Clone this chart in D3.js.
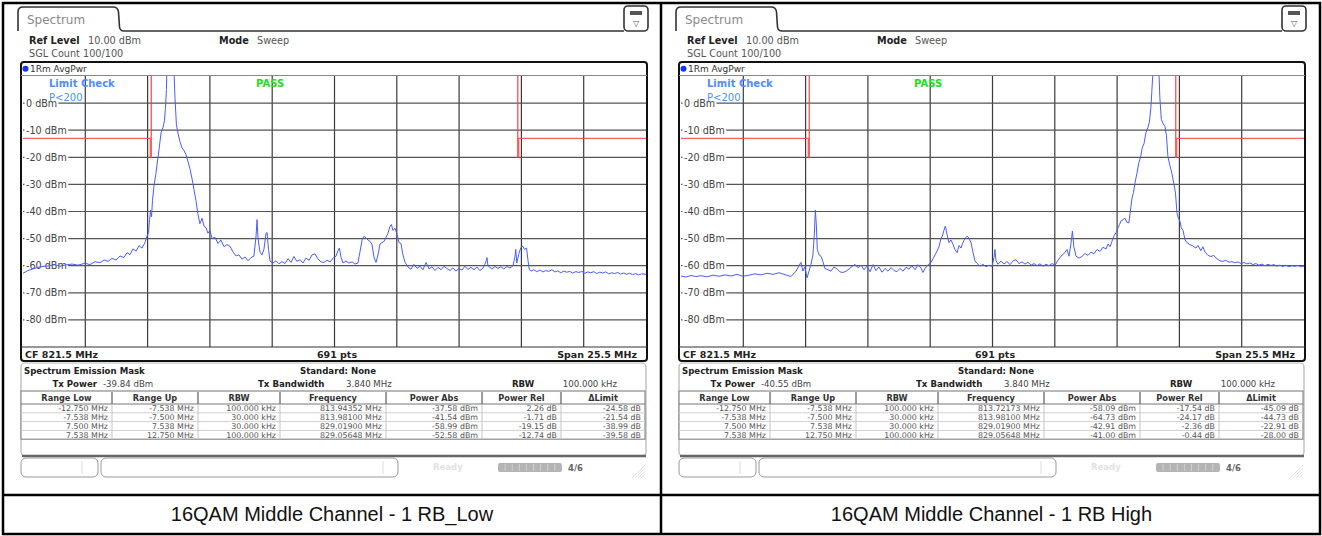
<!DOCTYPE html>
<html>
<head>
<meta charset="utf-8">
<script src="https://cdn.jsdelivr.net/npm/d3@7"></script>
<style>
  body { margin: 0; background: #fff; }
  svg { display: block; font-family: "DejaVu Sans", Verdana, sans-serif; }
</style>
</head>
<body>
<svg id="chart" width="1322" height="536"></svg>
<script>
"use strict";

// y axis (dBm) ticks shown on the analyzer screen
const yTickValues = [0, -10, -20, -30, -40, -50, -60, -70, -80];
const yTickLabels = ["0 dBm", "-10 dBm", "-20 dBm", "-30 dBm", "-40 dBm", "-50 dBm", "-60 dBm", "-70 dBm", "-80 dBm"];

// trace: [offset from CF in MHz, level in dBm]
const traceLow = [
  [-12.75, -62.8], [-12.55, -61.8], [-12.34, -61.2], [-12.14, -60.6], [-11.93, -60.3], [-11.65, -60.0],
  [-11.44, -59.6], [-11.24, -60.2], [-10.99, -59.7], [-10.74, -59.4], [-10.50, -59.8], [-10.21, -59.1],
  [-10.01, -59.6], [-9.80, -58.5], [-9.60, -58.9], [-9.43, -57.9], [-9.27, -58.4], [-9.11, -57.3],
  [-8.94, -57.9], [-8.78, -56.4], [-8.62, -57.0], [-8.49, -55.2], [-8.37, -55.9], [-8.25, -53.8],
  [-8.12, -54.6], [-8.00, -52.6], [-7.88, -53.5], [-7.76, -51.5], [-7.67, -49.0], [-7.61, -47.8],
  [-7.57, -43.0], [-7.53, -39.5], [-7.49, -42.0], [-7.45, -36.0], [-7.39, -30.7], [-7.31, -26.0],
  [-7.24, -21.0], [-7.18, -17.0], [-7.10, -11.0], [-7.02, -9.0], [-6.96, -6.5], [-6.92, -2.0],
  [-6.88, 5.0], [-6.86, 12.0], [-6.57, 12.0], [-6.53, 2.0], [-6.47, -8.0], [-6.41, -11.0],
  [-6.32, -14.5], [-6.24, -16.5], [-6.16, -17.5], [-6.08, -19.0], [-6.00, -21.5], [-5.91, -24.5],
  [-5.83, -28.0], [-5.75, -32.0], [-5.67, -36.0], [-5.59, -41.0], [-5.51, -44.5], [-5.42, -42.5],
  [-5.34, -45.5], [-5.26, -46.0], [-5.18, -48.0], [-5.10, -47.0], [-5.01, -50.0], [-4.89, -49.5],
  [-4.77, -51.8], [-4.65, -50.5], [-4.52, -53.0], [-4.40, -52.2], [-4.28, -52.8], [-4.15, -55.0],
  [-4.03, -56.4], [-3.91, -56.0], [-3.79, -57.6], [-3.66, -56.8], [-3.54, -58.2], [-3.42, -57.0],
  [-3.30, -56.5], [-3.21, -49.0], [-3.17, -43.0], [-3.13, -50.0], [-3.05, -55.0], [-2.97, -56.0],
  [-2.89, -54.0], [-2.80, -48.0], [-2.76, -47.8], [-2.70, -54.0], [-2.64, -58.3], [-2.52, -59.0],
  [-2.39, -58.2], [-2.27, -59.3], [-2.15, -58.5], [-2.03, -59.2], [-1.90, -57.4], [-1.78, -58.8],
  [-1.66, -56.6], [-1.54, -58.4], [-1.41, -57.8], [-1.29, -59.0], [-1.17, -57.2], [-1.04, -58.0],
  [-0.92, -56.0], [-0.80, -55.6], [-0.68, -57.5], [-0.55, -58.6], [-0.43, -58.8], [-0.31, -58.0],
  [-0.18, -58.6], [-0.06, -57.2], [0.06, -56.5], [0.14, -54.5], [0.20, -53.5], [0.27, -57.0],
  [0.35, -59.0], [0.47, -58.3], [0.59, -59.0], [0.72, -58.6], [0.84, -59.4], [0.96, -59.0],
  [1.04, -55.0], [1.13, -50.5], [1.21, -49.1], [1.29, -49.8], [1.37, -50.5], [1.45, -51.0],
  [1.53, -52.0], [1.62, -57.0], [1.70, -58.8], [1.78, -56.0], [1.86, -52.0], [1.94, -51.5],
  [2.03, -51.0], [2.11, -49.5], [2.19, -48.0], [2.27, -45.5], [2.33, -44.8], [2.39, -47.0],
  [2.48, -46.2], [2.56, -48.5], [2.64, -51.5], [2.72, -51.8], [2.80, -56.0], [2.89, -58.8],
  [3.01, -60.5], [3.13, -61.3], [3.25, -59.5], [3.38, -61.0], [3.50, -60.2], [3.62, -61.5],
  [3.75, -58.8], [3.87, -61.2], [3.99, -60.4], [4.11, -61.8], [4.24, -60.6], [4.36, -61.5],
  [4.48, -60.2], [4.60, -61.0], [4.73, -61.8], [4.85, -60.8], [4.97, -62.0], [5.09, -61.0],
  [5.22, -61.6], [5.34, -60.2], [5.46, -61.4], [5.58, -60.6], [5.71, -61.5], [5.83, -60.5],
  [5.95, -61.8], [6.08, -60.9], [6.20, -58.5], [6.24, -57.0], [6.28, -60.0], [6.44, -61.2],
  [6.57, -60.3], [6.69, -61.0], [6.81, -60.4], [6.93, -61.2], [7.06, -60.3], [7.18, -60.8],
  [7.30, -60.1], [7.38, -57.0], [7.42, -54.0], [7.46, -59.0], [7.55, -55.5], [7.62, -53.5],
  [7.70, -52.7], [7.78, -54.0], [7.86, -53.5], [7.92, -58.0], [7.97, -61.3], [8.04, -62.0],
  [8.16, -61.5], [8.28, -62.2], [8.41, -61.6], [8.53, -62.3], [8.65, -61.8], [8.77, -62.1],
  [8.90, -61.5], [9.02, -62.3], [9.14, -61.9], [9.26, -62.6], [9.39, -62.0], [9.51, -62.4],
  [9.63, -62.1], [9.75, -62.7], [9.88, -62.2], [10.00, -62.5], [10.12, -62.1], [10.24, -62.8],
  [10.37, -62.3], [10.49, -62.6], [10.61, -62.2], [10.73, -62.9], [10.86, -62.4], [10.98, -62.7],
  [11.10, -62.3], [11.22, -63.0], [11.35, -62.6], [11.47, -62.9], [11.59, -62.5], [11.71, -63.1],
  [11.84, -62.7], [11.96, -63.2], [12.08, -62.8], [12.20, -63.3], [12.33, -62.9], [12.45, -63.4],
  [12.57, -63.0], [12.75, -63.2]
];

const traceHigh = [
  [-12.75, -63.8], [-12.55, -64.2], [-12.34, -63.6], [-12.14, -64.0], [-11.93, -63.7], [-11.69, -64.1],
  [-11.44, -63.5], [-11.19, -63.9], [-10.95, -63.4], [-10.70, -63.8], [-10.46, -63.2], [-10.21, -63.9],
  [-9.97, -63.5], [-9.72, -63.0], [-9.48, -63.4], [-9.23, -62.8], [-8.98, -63.2], [-8.74, -62.6],
  [-8.49, -63.3], [-8.25, -64.0], [-8.04, -62.0], [-7.92, -60.0], [-7.84, -58.8], [-7.76, -62.0],
  [-7.68, -60.5], [-7.59, -64.5], [-7.51, -62.0], [-7.43, -59.5], [-7.35, -56.0], [-7.29, -48.0],
  [-7.25, -39.5], [-7.21, -45.0], [-7.17, -54.0], [-7.10, -56.0], [-7.02, -56.5], [-6.94, -58.5],
  [-6.86, -61.0], [-6.73, -61.5], [-6.61, -62.0], [-6.49, -60.5], [-6.36, -61.2], [-6.24, -62.3],
  [-6.12, -62.5], [-5.99, -62.0], [-5.87, -61.2], [-5.75, -60.3], [-5.63, -59.5], [-5.50, -60.8],
  [-5.38, -59.8], [-5.26, -61.5], [-5.14, -60.2], [-5.01, -62.2], [-4.89, -59.6], [-4.77, -61.8],
  [-4.65, -60.5], [-4.52, -62.4], [-4.40, -61.0], [-4.28, -62.0], [-4.15, -60.7], [-4.03, -61.8],
  [-3.91, -62.2], [-3.79, -61.0], [-3.66, -62.0], [-3.54, -60.6], [-3.42, -61.3], [-3.30, -60.0],
  [-3.17, -61.5], [-3.05, -59.6], [-2.93, -60.8], [-2.85, -62.5], [-2.76, -61.0], [-2.68, -60.0],
  [-2.60, -59.5], [-2.52, -58.8], [-2.44, -57.5], [-2.35, -56.0], [-2.27, -54.6], [-2.19, -53.0],
  [-2.11, -50.0], [-2.05, -49.0], [-1.99, -47.0], [-1.93, -45.4], [-1.86, -48.5], [-1.78, -51.5],
  [-1.70, -50.5], [-1.62, -52.0], [-1.54, -54.0], [-1.45, -55.2], [-1.37, -52.5], [-1.29, -53.5],
  [-1.21, -51.5], [-1.13, -50.0], [-1.04, -49.1], [-0.96, -49.8], [-0.88, -51.5], [-0.80, -55.0],
  [-0.72, -58.2], [-0.63, -59.2], [-0.51, -60.2], [-0.39, -59.5], [-0.27, -60.4], [-0.14, -59.8],
  [-0.02, -60.3], [0.06, -57.0], [0.10, -54.0], [0.14, -58.0], [0.22, -59.5], [0.35, -58.3],
  [0.47, -59.4], [0.59, -58.5], [0.72, -59.6], [0.84, -58.2], [0.96, -57.8], [1.08, -59.2],
  [1.21, -58.6], [1.33, -59.4], [1.45, -58.7], [1.58, -59.8], [1.70, -59.2], [1.82, -60.0],
  [1.94, -59.3], [2.07, -60.2], [2.19, -59.5], [2.31, -60.0], [2.44, -59.2], [2.56, -59.8],
  [2.68, -58.0], [2.80, -56.5], [2.93, -55.5], [3.05, -54.0], [3.13, -56.5], [3.21, -52.0],
  [3.27, -47.2], [3.33, -53.0], [3.42, -56.5], [3.54, -57.2], [3.66, -56.6], [3.79, -55.5],
  [3.91, -56.2], [4.03, -55.0], [4.15, -55.6], [4.28, -54.0], [4.40, -54.8], [4.52, -53.2],
  [4.65, -53.8], [4.73, -52.0], [4.81, -53.0], [4.89, -51.0], [4.97, -49.0], [5.06, -47.8],
  [5.14, -46.0], [5.20, -44.8], [5.26, -43.5], [5.34, -43.0], [5.42, -42.5], [5.50, -44.0],
  [5.58, -44.2], [5.67, -38.0], [5.71, -35.0], [5.77, -33.0], [5.83, -29.5], [5.91, -26.0],
  [5.99, -22.0], [6.07, -19.5], [6.13, -16.5], [6.20, -15.0], [6.28, -11.0], [6.36, -9.0],
  [6.42, -7.0], [6.48, -2.0], [6.52, 4.0], [6.57, 12.0], [6.81, 12.0], [6.85, 2.0],
  [6.91, -6.0], [6.98, -7.5], [7.06, -8.7], [7.12, -12.0], [7.18, -19.7], [7.26, -23.0],
  [7.34, -25.8], [7.43, -30.0], [7.49, -33.2], [7.55, -40.5], [7.61, -42.5], [7.67, -43.5],
  [7.73, -46.0], [7.80, -47.0], [7.88, -50.5], [7.96, -51.5], [8.08, -52.2], [8.20, -52.7],
  [8.33, -53.5], [8.41, -52.5], [8.53, -54.5], [8.61, -53.0], [8.70, -55.0], [8.82, -56.2],
  [8.94, -56.6], [9.06, -56.2], [9.19, -57.5], [9.31, -58.2], [9.43, -58.4], [9.55, -58.0],
  [9.68, -58.7], [9.80, -58.5], [9.92, -58.9], [10.05, -58.6], [10.17, -59.2], [10.29, -58.8],
  [10.41, -59.3], [10.54, -59.0], [10.66, -59.6], [10.78, -59.2], [10.90, -59.8], [11.03, -59.4],
  [11.15, -60.0], [11.27, -59.5], [11.40, -59.9], [11.52, -59.6], [11.64, -60.2], [11.76, -59.8],
  [11.89, -60.3], [12.01, -59.8], [12.13, -60.4], [12.25, -60.0], [12.38, -60.2], [12.50, -59.9],
  [12.62, -60.4], [12.75, -60.1]
];

// spectrum emission mask limit lines [MHz offset, dBm]
const limitLower = [[-12.75, -13], [-7.538, -13], [-7.538, -20], [-7.5, -20], [-7.5, 10]];
const limitUpper = [[7.5, 10], [7.5, -20], [7.538, -20], [7.538, -13], [12.75, -13]];

// result table
const tableColumns = ["Range Low", "Range Up", "RBW", "Frequency", "Power Abs", "Power Rel", "\u0394Limit"];
const rowsLow = [
  ["-12.750 MHz", "-7.538 MHz", "100.000 kHz", "813.94352 MHz", "-37.58 dBm", "2.26 dB", "-24.58 dB"],
  ["-7.538 MHz", "-7.500 MHz", "30.000 kHz", "813.98100 MHz", "-41.54 dBm", "-1.71 dB", "-21.54 dB"],
  ["7.500 MHz", "7.538 MHz", "30.000 kHz", "829.01900 MHz", "-58.99 dBm", "-19.15 dB", "-38.99 dB"],
  ["7.538 MHz", "12.750 MHz", "100.000 kHz", "829.05648 MHz", "-52.58 dBm", "-12.74 dB", "-39.58 dB"]
];
const rowsHigh = [
  ["-12.750 MHz", "-7.538 MHz", "100.000 kHz", "813.72173 MHz", "-58.09 dBm", "-17.54 dB", "-45.09 dB"],
  ["-7.538 MHz", "-7.500 MHz", "30.000 kHz", "813.98100 MHz", "-64.73 dBm", "-24.17 dB", "-44.73 dB"],
  ["7.500 MHz", "7.538 MHz", "30.000 kHz", "829.01900 MHz", "-42.91 dBm", "-2.36 dB", "-22.91 dB"],
  ["7.538 MHz", "12.750 MHz", "100.000 kHz", "829.05648 MHz", "-41.00 dBm", "-0.44 dB", "-28.00 dB"]
];
const txPowers = ["-39.84 dBm", "-40.55 dBm"];
const captions = ["16QAM Middle Channel - 1 RB_Low", "16QAM Middle Channel - 1 RB High"];

const svg = d3.select("#chart");

const x = d3.scaleLinear().domain([-12.75, 12.75]).range([23, 646]);
const y = d3.scaleLinear().domain([-90, 10]).range([347, 76]);
const colEdges = [21, 112, 198, 280, 386, 482, 561, 645];

function drawPanel(offset, trace, rows, txPower, id) {
  const g = svg.append("g").attr("transform", `translate(${offset},0)`);

  // tab + top line
  g.append("path")
    .attr("d", "M18,31 V12 Q18,7 23,7 H113 Q118,7 118.5,12 L119.5,27 Q120,31 124,31 H624")
    .attr("fill", "none").attr("stroke", "#333").attr("stroke-width", 1.6);
  g.append("text").attr("x", 27).attr("y", 23.5)
    .attr("font-size", 12).attr("fill", "#8a8a8a").text("Spectrum");
  g.append("rect").attr("x", 624).attr("y", 6).attr("width", 24).attr("height", 25).attr("rx", 4)
    .attr("fill", "#fff").attr("stroke", "#333").attr("stroke-width", 1.6);
  g.append("rect").attr("x", 630).attr("y", 11).attr("width", 12).attr("height", 4).attr("fill", "#555");
  g.append("text").attr("x", 636).attr("y", 26).attr("text-anchor", "middle")
    .attr("font-size", 8).attr("fill", "#555").text("\u25BD");

  // settings
  const hdr = g.append("g").attr("font-size", 9.7);
  hdr.append("text").attr("x", 29).attr("y", 44).attr("font-weight", "bold").attr("fill", "#222").text("Ref Level");
  hdr.append("text").attr("x", 88).attr("y", 44).attr("fill", "#555").text("10.00 dBm");
  hdr.append("text").attr("x", 219).attr("y", 44).attr("font-weight", "bold").attr("fill", "#222").text("Mode");
  hdr.append("text").attr("x", 257).attr("y", 44).attr("fill", "#555").text("Sweep");
  hdr.append("text").attr("x", 29).attr("y", 56.5).attr("fill", "#555").text("SGL Count 100/100");

  // plot frame
  g.append("rect").attr("x", 21).attr("y", 62).attr("width", 626).attr("height", 299).attr("rx", 3)
    .attr("fill", "#fff").attr("stroke", "#111").attr("stroke-width", 2);
  g.append("line").attr("x1", 21).attr("x2", 647).attr("y1", 75.5).attr("y2", 75.5)
    .attr("stroke", "#888").attr("stroke-width", 1);
  g.append("circle").attr("cx", 25.5).attr("cy", 68.8).attr("r", 3).attr("fill", "#1533ff");
  g.append("text").attr("x", 30).attr("y", 72).attr("font-size", 9).attr("fill", "#333").text("1Rm AvgPwr");

  // grid
  const grid = g.append("g");
  grid.selectAll(".v").data(d3.range(1, 10).map(i => -12.75 + i * 2.55)).enter().append("line")
    .attr("x1", d => x(d)).attr("x2", d => x(d)).attr("y1", y(10)).attr("y2", y(-90))
    .attr("stroke", "#3a3a3a").attr("stroke-width", 1.2);
  grid.selectAll(".h").data(yTickValues).enter().append("line")
    .attr("x1", x(-12.75)).attr("x2", x(12.75)).attr("y1", d => y(d)).attr("y2", d => y(d))
    .attr("stroke", "#555").attr("stroke-width", 1.2);
  g.append("line").attr("x1", 21).attr("x2", 647).attr("y1", y(-90)).attr("y2", y(-90))
    .attr("stroke", "#333").attr("stroke-width", 1.2);

  g.selectAll(".ylab").data(yTickValues).enter().append("text")
    .attr("x", 26).attr("y", d => y(d) + 3.4)
    .attr("font-size", 9.6).attr("fill", "#444")
    .attr("stroke", "#fff").attr("stroke-width", 4).attr("paint-order", "stroke")
    .text((d, i) => yTickLabels[i]);

  // limit check text
  g.append("text").attr("x", 49).attr("y", 86.5).attr("font-size", 10).attr("font-weight", "bold")
    .attr("fill", "#4d8dff").text("Limit Check");
  g.append("text").attr("x", 49).attr("y", 100.5).attr("font-size", 10)
    .attr("fill", "#4d8dff").text("P<200");
  g.append("text").attr("x", 256).attr("y", 86.5).attr("font-size", 10).attr("font-weight", "bold")
    .attr("fill", "#22dd22").text("PASS");

  // clip for curves
  g.append("clipPath").attr("id", id).append("rect")
    .attr("x", x(-12.75)).attr("y", y(10)).attr("width", x(12.75) - x(-12.75)).attr("height", y(-90) - y(10));

  const line = d3.line().x(d => x(d[0])).y(d => y(d[1]));
  const curves = g.append("g").attr("clip-path", `url(#${id})`);
  [limitLower, limitUpper].forEach(lim => {
    curves.append("path").attr("d", line(lim)).attr("fill", "none")
      .attr("stroke", "#ff4040").attr("stroke-width", 1.4).attr("stroke-opacity", 0.85);
  });
  curves.append("path").attr("d", line(trace)).attr("fill", "none")
    .attr("stroke", "#4a5cff").attr("stroke-width", 1).attr("stroke-linejoin", "round");

  // footer
  const ft = g.append("g").attr("font-size", 9.5).attr("font-weight", "bold").attr("fill", "#222");
  ft.append("text").attr("x", 25).attr("y", 357.5).text("CF 821.5 MHz");
  ft.append("text").attr("x", 337).attr("y", 357.5).attr("text-anchor", "middle").text("691 pts");
  ft.append("text").attr("x", 637).attr("y", 357.5).attr("text-anchor", "end").text("Span 25.5 MHz");

  // result section
  g.append("rect").attr("x", 21).attr("y", 363).attr("width", 625).attr("height", 93).attr("rx", 4)
    .attr("fill", "#fff").attr("stroke", "#b5b5b5").attr("stroke-width", 1.2);
  g.append("line").attr("x1", 22).attr("x2", 646).attr("y1", 456).attr("y2", 456)
    .attr("stroke", "#666").attr("stroke-width", 2.5);
  const rs = g.append("g").attr("font-size", 8.6).attr("fill", "#222");
  rs.append("text").attr("x", 24).attr("y", 374).attr("font-weight", "bold").text("Spectrum Emission Mask");
  rs.append("text").attr("x", 300).attr("y", 374).attr("font-weight", "bold").text("Standard: None");
  rs.append("text").attr("x", 97).attr("y", 387).attr("text-anchor", "end").attr("font-weight", "bold").text("Tx Power");
  rs.append("text").attr("x", 103).attr("y", 387).attr("fill", "#444").text(txPower);
  rs.append("text").attr("x", 258).attr("y", 387).attr("font-weight", "bold").text("Tx Bandwidth");
  rs.append("text").attr("x", 346).attr("y", 387).attr("fill", "#444").text("3.840 MHz");
  rs.append("text").attr("x", 512).attr("y", 387).attr("font-weight", "bold").text("RBW");
  rs.append("text").attr("x", 617).attr("y", 387).attr("text-anchor", "end").attr("fill", "#444").text("100.000 kHz");

  // table
  const tTop = 391, hH = 13, rH = 8.8;
  const tBottom = tTop + hH + rH * rows.length;
  const tb = g.append("g");
  tb.append("rect").attr("x", colEdges[0]).attr("y", tTop).attr("width", colEdges[7] - colEdges[0])
    .attr("height", tBottom - tTop).attr("fill", "#fff").attr("stroke", "#8a8a8a").attr("stroke-width", 1.2);
  tb.append("line").attr("x1", colEdges[0]).attr("x2", colEdges[7]).attr("y1", tTop + hH).attr("y2", tTop + hH)
    .attr("stroke", "#777").attr("stroke-width", 1);
  rows.forEach((r, i) => {
    if (i > 0) {
      tb.append("line").attr("x1", colEdges[0]).attr("x2", colEdges[7])
        .attr("y1", tTop + hH + rH * i).attr("y2", tTop + hH + rH * i).attr("stroke", "#d0d0d0");
    }
  });
  colEdges.slice(1, 7).forEach(cx => {
    tb.append("line").attr("x1", cx).attr("x2", cx).attr("y1", tTop + 1).attr("y2", tTop + hH)
      .attr("stroke", "#666").attr("stroke-width", 1.3);
    tb.append("line").attr("x1", cx).attr("x2", cx).attr("y1", tTop + hH).attr("y2", tBottom)
      .attr("stroke", "#c4c4c4").attr("stroke-width", 1);
  });
  tb.selectAll(".th").data(tableColumns).enter().append("text")
    .attr("x", (d, i) => (colEdges[i] + colEdges[i + 1]) / 2).attr("y", tTop + 9.5)
    .attr("text-anchor", "middle").attr("font-size", 8.2).attr("font-weight", "bold").attr("fill", "#333")
    .text(d => d);
  rows.forEach((r, i) => {
    tb.selectAll(null).data(r).enter().append("text")
      .attr("x", (d, j) => colEdges[j + 1] - 4).attr("y", tTop + hH + rH * i + 7.2)
      .attr("text-anchor", "end").attr("font-size", 7.9).attr("fill", "#555")
      .text(d => d);
  });

  // status bar
  const sb = g.append("g");
  sb.append("rect").attr("x", 21).attr("y", 458).attr("width", 77).attr("height", 19).attr("rx", 5)
    .attr("fill", "#fff").attr("stroke", "#999");
  sb.append("line").attr("x1", 82).attr("x2", 82).attr("y1", 461).attr("y2", 474).attr("stroke", "#ddd");
  sb.append("rect").attr("x", 101).attr("y", 458).attr("width", 297).attr("height", 19).attr("rx", 5)
    .attr("fill", "#fff").attr("stroke", "#999");
  sb.append("line").attr("x1", 383).attr("x2", 383).attr("y1", 461).attr("y2", 474).attr("stroke", "#ddd");
  sb.append("text").attr("x", 433).attr("y", 470).attr("font-size", 8.5).attr("font-weight", "bold")
    .attr("fill", "#e2e2e2").text("Ready");
  sb.append("rect").attr("x", 498).attr("y", 463).attr("width", 64).attr("height", 9).attr("rx", 2)
    .attr("fill", "#b4b4b4");
  sb.selectAll(".seg").data(d3.range(1, 9)).enter().append("line")
    .attr("x1", d => 498 + d * 7.1).attr("x2", d => 498 + d * 7.1).attr("y1", 464).attr("y2", 471)
    .attr("stroke", "#d8d8d8").attr("stroke-width", 0.8);
  sb.append("text").attr("x", 568).attr("y", 471).attr("font-size", 8.5).attr("font-weight", "bold")
    .attr("fill", "#666").text("4/6");
  sb.selectAll(".hatch").data(d3.range(0, 5)).enter().append("line")
    .attr("x1", d => 632 + d * 3).attr("y1", 478).attr("x2", 645).attr("y2", d => 465 + d * 3)
    .attr("stroke", "#e0e0e0").attr("stroke-width", 0.8);
}

drawPanel(0, traceLow, rowsLow, txPowers[0], "clipLow");
drawPanel(658, traceHigh, rowsHigh, txPowers[1], "clipHigh");

// outer frame and captions
svg.append("rect").attr("x", 3).attr("y", 3).attr("width", 1317).attr("height", 531)
  .attr("fill", "none").attr("stroke", "#000").attr("stroke-width", 2.5);
svg.append("line").attr("x1", 661).attr("x2", 661).attr("y1", 3).attr("y2", 534)
  .attr("stroke", "#000").attr("stroke-width", 2.5);
svg.append("line").attr("x1", 3).attr("x2", 1320).attr("y1", 495).attr("y2", 495)
  .attr("stroke", "#000").attr("stroke-width", 2.5);
svg.selectAll(".cap").data(captions).enter().append("text")
  .attr("x", (d, i) => i === 0 ? 332 : 991.5).attr("y", 521)
  .attr("text-anchor", "middle")
  .attr("font-family", "'Liberation Sans', Arial, sans-serif")
  .attr("font-size", 20).attr("fill", "#111")
  .text(d => d);
</script>
</body>
</html>
